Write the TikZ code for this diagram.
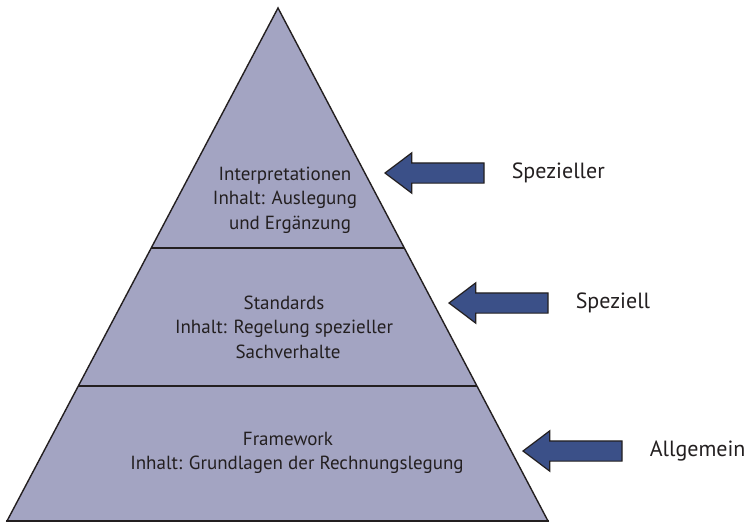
\documentclass[tikz,border=0pt]{standalone}
\usepackage{fontspec}
\setmainfont{PT Sans}
\usetikzlibrary{shapes.arrows,positioning}

\definecolor{pyrfill}{RGB}{163,164,194}
\definecolor{pfeilblau}{RGB}{59,80,136}
\definecolor{linie}{RGB}{35,31,32}

\tikzset{
  stufe/.style={align=center,text=linie,font=\fontsize{19}{24.5}\selectfont},
  pfeil/.style={single arrow,draw=linie,fill=pfeilblau,line width=1.2pt,
    shape border rotate=180,minimum height=99pt,inner xsep=0pt,inner ysep=9.5pt,
    single arrow head extend=10pt,single arrow tip angle=74,anchor=tip},
  etikett/.style={right=27pt of #1,inner sep=0pt,text=linie,font=\fontsize{22}{26}\selectfont}
}

\begin{document}
\begin{tikzpicture}[x=1pt,y=-1pt]
\useasboundingbox (0,0) rectangle (749,524);
% pyramid
\draw[fill=pyrfill,draw=linie,line width=1.4pt,line join=miter] (7,521) -- (278,8) -- (548,521) -- cycle;
\draw[linie,line width=2.2pt] (6,521) -- (549,521);
\draw[linie,line width=1.3pt] (151.2,248) -- (403.8,248);
\draw[linie,line width=1.3pt] (78.3,386) -- (476.7,386);
% texts
\node[stufe] (interp) at (285,200) {Interpretationen\\Inhalt: Auslegung\\\hspace*{10pt}und Ergänzung};
\node[stufe] (stand) at (284,327) {Standards\\Inhalt: Regelung spezieller\\\hspace*{8pt}Sachverhalte};
\node[stufe] (frame) at (297,453) {Framework\hspace*{18pt}\\Inhalt: Grundlagen der Rechnungslegung};
% arrows
\node[pfeil] (pfeilA) at (384,173) {};
\node[pfeil] (pfeilB) at (448,303) {};
\node[pfeil] (pfeilC) at (522,451) {};
\node[etikett=pfeilA] (spezieller) {Spezieller};
\node[etikett=pfeilB] (speziell) {Speziell};
\node[etikett=pfeilC] (allgemein) {Allgemein};
\end{tikzpicture}
\end{document}
